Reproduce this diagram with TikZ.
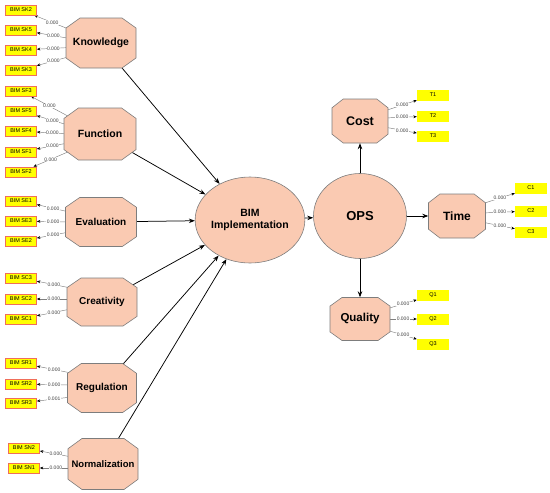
\documentclass[tikz,border=0pt]{standalone}
\usepackage{fontspec}
\setmainfont{Liberation Sans}
\usetikzlibrary{shapes.geometric,arrows.meta,backgrounds,calc}
\definecolor{salmon}{RGB}{250,202,178}
\definecolor{edgegray}{RGB}{125,125,125}
\definecolor{boxred}{RGB}{240,110,90}
\definecolor{ylw}{RGB}{255,255,0}
\newcommand\octnode[7]{%
  \filldraw[octshape] ({#2-#4/2},{#3-0.3*#5}) -- ({#2-0.3*#4},{#3-#5/2}) -- ({#2+0.3*#4},{#3-#5/2}) -- ({#2+#4/2},{#3-0.3*#5}) -- ({#2+#4/2},{#3+0.3*#5}) -- ({#2+0.3*#4},{#3+#5/2}) -- ({#2-0.3*#4},{#3+#5/2}) -- ({#2-#4/2},{#3+0.3*#5}) -- cycle;
  \node[octtext, minimum width=#4pt, minimum height=#5pt, font=\fontsize{#7}{#7}\selectfont\bfseries] (#1) at (#2,#3) {#6};}
\begin{document}
\begin{tikzpicture}[x=1pt,y=-1pt,
  octshape/.style={fill=salmon, draw=edgegray, line width=0.6pt},
  octtext/.style={inner sep=0pt, align=center},
  latent/.style={ellipse, fill=salmon, draw=edgegray, line width=0.6pt, inner sep=0pt, align=center},
  lbox/.style={draw=boxred, line width=0.7pt, fill=ylw, minimum width=31pt, minimum height=10pt, inner sep=0pt, font=\fontsize{5.5}{6}\selectfont},
  rbox/.style={fill=ylw, minimum width=32pt, minimum height=11pt, inner sep=0pt, font=\fontsize{5.5}{6}\selectfont},
  load/.style={draw=gray, line width=0.45pt, -{Stealth[length=3.5pt,width=2.8pt,black]}},
  lab/.style={fill=white, inner sep=0.4pt, font=\fontsize{5}{5}\selectfont, text=darkgray, pos=0.5},
  struct/.style={draw=black, line width=0.75pt, -{Stealth[length=6pt,width=4.5pt]}}]
\useasboundingbox (0,0) rectangle (550,493);

% constructs
\octnode{know}{101}{43}{70}{50}{Knowledge}{10.5}
\octnode{func}{100}{134}{72}{52}{Function}{10.5}
\octnode{eval}{101}{222}{71}{49}{Evaluation}{10}
\octnode{crea}{102}{302}{70}{48}{Creativity}{10}
\octnode{regu}{102}{388}{69}{49}{Regulation}{10}
\octnode{norm}{103}{464}{70}{51}{Normalization}{9.5}
\octnode{cost}{360}{121}{56}{44}{Cost}{12.5}
\octnode{time}{457}{216}{57}{44}{Time}{12}
\octnode{qual}{360}{319}{60}{43}{Quality}{11.5}

\node[latent, minimum width=98pt, minimum height=86pt, font=\fontsize{10.5}{12.5}\selectfont\bfseries] (bim) at (250,220) {BIM\\Implementation};
\node[latent, minimum width=93pt, minimum height=85pt, font=\fontsize{13}{13}\selectfont\bfseries] (ops) at (360,216) {OPS};

% indicator boxes left
\node[lbox] (sk2) at (21,10) {BIM SK2};
\node[lbox] (sk5) at (21,30) {BIM SK5};
\node[lbox] (sk4) at (21,50) {BIM SK4};
\node[lbox] (sk3) at (21,70) {BIM SK3};
\node[lbox] (sf3) at (21,91) {BIM SF3};
\node[lbox] (sf5) at (21,111) {BIM SF5};
\node[lbox] (sf4) at (21,131) {BIM SF4};
\node[lbox] (sf1) at (21,152) {BIM SF1};
\node[lbox] (sf2) at (21,172) {BIM SF2};
\node[lbox] (se1) at (21,201) {BIM SE1};
\node[lbox] (se3) at (21,221) {BIM SE3};
\node[lbox] (se2) at (21,241) {BIM SE2};
\node[lbox] (sc3) at (21,278) {BIM SC3};
\node[lbox] (sc2) at (21,299) {BIM SC2};
\node[lbox] (sc1) at (21,319) {BIM SC1};
\node[lbox] (sr1) at (21,363) {BIM SR1};
\node[lbox] (sr2) at (21,384) {BIM SR2};
\node[lbox] (sr3) at (21,403) {BIM SR3};
\node[lbox] (sn2) at (24,448) {BIM SN2};
\node[lbox] (sn1) at (24,468) {BIM SN1};

% indicator boxes right
\node[rbox] (t1) at (433,95) {T1};
\node[rbox] (t2) at (433,116) {T2};
\node[rbox] (t3) at (433,136) {T3};
\node[rbox] (c1) at (531,188) {C1};
\node[rbox] (c2) at (531,211) {C2};
\node[rbox] (c3) at (531,232) {C3};
\node[rbox] (q1) at (433,295) {Q1};
\node[rbox] (q2) at (433,319) {Q2};
\node[rbox] (q3) at (433,344) {Q3};

\begin{scope}[on background layer]
% loadings left
\draw[load] ($(know.west)+(4,-13.5)$) -- node[lab]{0.000} (sk2);
\draw[load] ($(know.west)+(4,-4.5)$) -- node[lab]{0.000} (sk5);
\draw[load] ($(know.west)+(4,4.5)$) -- node[lab]{0.000} (sk4);
\draw[load] ($(know.west)+(4,13.5)$) -- node[lab]{0.000} (sk3);
\draw[load] ($(func.west)+(4,-18)$) -- node[lab]{0.000} (sf3);
\draw[load] ($(func.west)+(4,-9)$) -- node[lab]{0.000} (sf5);
\draw[load] ($(func.west)+(4,0)$) -- node[lab]{0.000} (sf4);
\draw[load] ($(func.west)+(4,9)$) -- node[lab]{0.000} (sf1);
\draw[load] ($(func.west)+(4,18)$) -- node[lab]{0.000} (sf2);
\draw[load] ($(eval.west)+(4,-10)$) -- node[lab]{0.000} (se1);
\draw[load] ($(eval.west)+(4,0)$) -- node[lab]{0.000} (se3);
\draw[load] ($(eval.west)+(4,10)$) -- node[lab]{0.000} (se2);
\draw[load] ($(crea.west)+(4,-14)$) -- node[lab]{0.000} (sc3);
\draw[load] ($(crea.west)+(4,-3)$) -- node[lab]{0.000} (sc2);
\draw[load] ($(crea.west)+(4,7)$) -- node[lab]{0.000} (sc1);
\draw[load] ($(regu.west)+(4,-15)$) -- node[lab]{0.000} (sr1);
\draw[load] ($(regu.west)+(4,-3)$) -- node[lab]{0.000} (sr2);
\draw[load] ($(regu.west)+(4,9)$) -- node[lab]{0.001} (sr3);
\draw[load] ($(norm.west)+(4,-7)$) -- node[lab]{0.000} (sn2);
\draw[load] ($(norm.west)+(4,4)$) -- node[lab]{0.000} (sn1);
% loadings right
\draw[load] ($(cost.east)+(-4,-10)$) -- node[lab,pos=0.55]{0.000} (t1);
\draw[load] ($(cost.east)+(-4,-3)$) -- node[lab,pos=0.55]{0.000} (t2);
\draw[load] ($(cost.east)+(-4,6)$) -- node[lab,pos=0.55]{0.000} (t3);
\draw[load] ($(time.east)+(-4,-12)$) -- node[lab,pos=0.55]{0.000} (c1);
\draw[load] ($(time.east)+(-4,-3)$) -- node[lab,pos=0.55]{0.000} (c2);
\draw[load] ($(time.east)+(-4,6)$) -- node[lab,pos=0.55]{0.000} (c3);
\draw[load] ($(qual.east)+(-4,-10)$) -- node[lab,pos=0.55]{0.000} (q1);
\draw[load] ($(qual.east)+(-4,0)$) -- node[lab,pos=0.55]{0.000} (q2);
\draw[load] ($(qual.east)+(-4,11)$) -- node[lab,pos=0.55]{0.000} (q3);
% structural paths into BIM
\draw[struct] (know.center) -- (bim);
\draw[struct] (func.center) -- (bim);
\draw[struct] (eval.center) -- (bim);
\draw[struct] (crea.center) -- (bim);
\draw[struct] (regu.center) -- (bim);
\draw[struct] (norm.center) -- (bim);
\end{scope}

\draw[struct] (bim) -- (ops);
\draw[struct] (ops) -- (cost);
\draw[struct] (ops) -- (time);
\draw[struct] (ops) -- (qual);
\end{tikzpicture}
\end{document}
